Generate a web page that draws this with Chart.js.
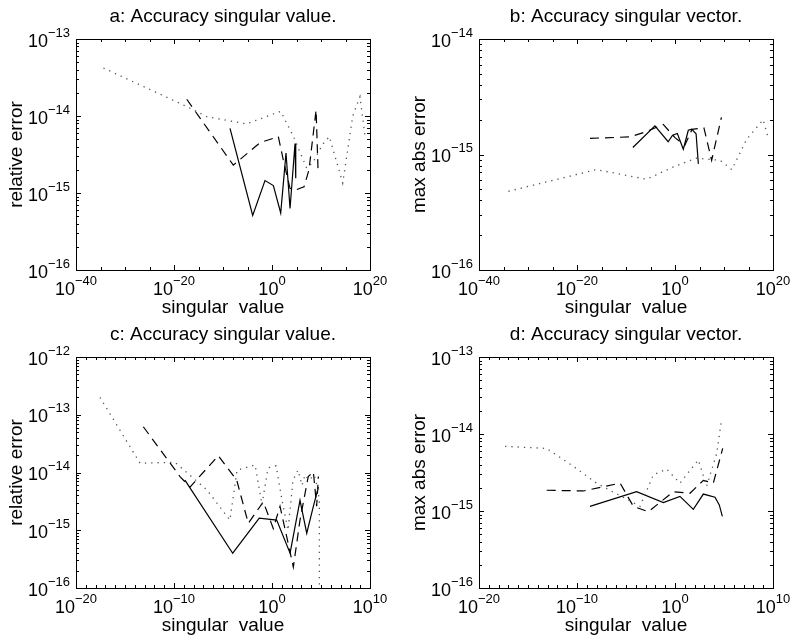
<!DOCTYPE html>
<html lang="en">
<head>
<meta charset="UTF-8">
<title>Accuracy singular value / vector</title>
<style>
  body { margin: 0; background: #fff; }
  #fig { position: relative; width: 793px; height: 641px; }
  #fig canvas { position: absolute; left: 0; top: 0; }
</style>
</head>
<body>
<div id="fig">
  <canvas id="pa" width="793" height="641"></canvas>
  <canvas id="pb" width="793" height="641"></canvas>
  <canvas id="pc" width="793" height="641"></canvas>
  <canvas id="pd" width="793" height="641"></canvas>
</div>
<script src="https://cdn.jsdelivr.net/npm/chart.js@4/dist/chart.umd.min.js"></script>
<script>
// tick exponents (labels are 10^exp)
const abXExp = [-40, -20, 0, 20];
const cdXExp = [-20, -10, 0, 10];
const aYExp = [-16, -15, -14, -13];
const bYExp = [-16, -15, -14];
const cYExp = [-16, -15, -14, -13, -12];
const dYExp = [-16, -15, -14, -13];

const titles = ['a: Accuracy singular value.', 'b: Accuracy singular vector.',
                'c: Accuracy singular value.', 'd: Accuracy singular vector.'];
const yLabels = ['relative error', 'max abs error', 'relative error', 'max abs error'];
const xLabel = 'singular  value';

// panel a
const aSolidX = [2.7e-9, 1.15e-4, 0.037, 1.9, 60, 720, 4.8e3, 5e4, 7e4];
const aSolidY = [6.9e-15, 5.1e-16, 1.45e-15, 1.25e-15, 5.5e-16, 3.3e-15, 6.3e-16, 4.4e-15, 1.55e-15];
const aDashX = [4e-18, 1.26e-8, 3.5e-3, 19.5, 200, 4.7e3, 8e4, 3.4e6, 3.5e7, 1e9, 2.5e9];
const aDashY = [1.65e-14, 2.3e-15, 4.5e-15, 5.4e-15, 2.7e-15, 1.15e-15, 1.1e-15, 1.2e-15, 2.0e-15, 1.2e-14, 2.0e-15];
const aDotX = [4e-35, 8e-18, 5e-14, 6.3e-6, 60, 2.2e4, 1.2e7, 2e8, 2.2e10, 5e11, 2.7e14, 3e16, 9e17, 1e19];
const aDotY = [4.2e-14, 1.3e-14, 9.8e-15, 7.9e-15, 1.15e-14, 5.5e-15, 2.1e-15, 2.45e-15, 4.3e-15, 5.4e-15, 1.35e-15, 1e-14, 1.78e-14, 5.4e-15];

// panel b
const bSolidX = [2.5e-9, 8e-5, 0.04, 0.32, 3, 50, 520, 2.5e3, 2e4, 5.8e4];
const bSolidY = [1.15e-15, 1.77e-15, 1.29e-15, 1.47e-15, 1.52e-15, 1.11e-15, 1.62e-15, 1.66e-15, 1.51e-15, 8.3e-16];
const bDashX = [4.5e-18, 6.3e-10, 1.6e-6, 4e-3, 1, 100, 3e3, 8e5, 3e7, 3e9];
const bDashY = [1.38e-15, 1.42e-15, 1.58e-15, 1.82e-15, 1.4e-15, 1.2e-15, 1.65e-15, 1.7e-15, 8.9e-16, 2.1e-15];
const bDotX = [1e-34, 1e-16, 1.6e-6, 0.45, 2.5e4, 1.6e9, 4e11, 4e14, 1e18, 1e19];
const bDotY = [4.8e-16, 7.4e-16, 6.1e-16, 7.8e-16, 9.3e-16, 8.9e-16, 7.4e-16, 1.35e-15, 2.0e-15, 1.4e-15];

// panel c
const cSolidX = [1.3e-9, 9.8e-5, 0.05, 3, 70, 720, 3.5e3, 1.66e4, 5.4e4];
const cSolidY = [7.4e-15, 4.0e-16, 1.62e-15, 1.5e-15, 4e-16, 3.3e-15, 8.9e-16, 2.6e-15, 5.6e-15];
const cDashX = [7.4e-14, 4.1e-10, 4.3e-9, 3.3e-6, 2.5e-4, 3.8e-3, 0.13, 1.35, 6.6, 150, 720, 5e3, 1.66e4, 3.6e4, 5.4e4];
const cDashY = [6.2e-14, 8.5e-15, 5.6e-15, 1.95e-14, 7.4e-15, 1.32e-15, 3.1e-15, 1.07e-15, 2.6e-15, 2.3e-16, 1.5e-15, 8.5e-15, 1.03e-14, 2.6e-15, 8.5e-15];
const cDotX = [2.8e-18, 3.4e-14, 1.26e-10, 2.3e-7, 5.1e-5, 2.7e-4, 0.019, 0.095, 0.39, 2.6, 10.5, 43, 140, 450, 1150, 2300, 6000, 2e4, 5e4, 6.8e4, 6.9e4];
const cDotY = [2.0e-13, 1.45e-14, 1.5e-14, 5.0e-15, 1.5e-15, 1.1e-14, 1.35e-14, 2.75e-15, 1.2e-14, 1.3e-14, 3.3e-15, 1.0e-15, 7.4e-15, 1.1e-14, 6.0e-15, 9.1e-15, 7.4e-15, 9e-15, 5e-15, 3e-15, 1e-17];

// panel d
const dSolidX = [2.1e-9, 1.2e-4, 0.065, 3.2, 74, 780, 1.2e4, 3.3e4, 6.8e4];
const dSolidY = [1.15e-15, 1.78e-15, 1.29e-15, 1.55e-15, 1.05e-15, 1.66e-15, 1.51e-15, 1.2e-15, 8.5e-16];
const dDashX = [8.1e-14, 4.4e-10, 2.5e-6, 5.6e-5, 1.9e-3, 0.68, 34, 780, 8.1e3, 7.4e4];
const dDashY = [1.86e-15, 1.82e-15, 2.3e-15, 1.15e-15, 9.8e-16, 1.78e-15, 1.7e-15, 2.5e-15, 2.3e-15, 6.5e-15];
const dDotX = [4.5e-18, 8.1e-14, 4.2e-11, 1e-8, 2.7e-4, 6.2e-3, 0.14, 3.2, 240, 1.7e3, 1.8e4, 5.9e4];
const dDotY = [6.9e-15, 6.5e-15, 3.8e-15, 2.3e-15, 1.15e-15, 2.95e-15, 3.5e-15, 2.3e-15, 4.6e-15, 2.1e-15, 5.6e-15, 1.6e-14];

const FONT = '"Liberation Sans", Arial, Helvetica, sans-serif';

// "10" with a raised exponent, as matlab does on log axes; returns the width
function drawPow(ctx, x, base, exp, align) {
    const expTxt = exp < 0 ? '\u2212' + (-exp) : String(exp);
    ctx.font = '18px ' + FONT;
    const w10 = ctx.measureText('10').width;
    ctx.font = '13px ' + FONT;
    const wExp = ctx.measureText(expTxt).width;
    const left = align === 'right' ? x - w10 - wExp : x - (w10 + wExp) / 2;
    ctx.textAlign = 'left';
    ctx.textBaseline = 'alphabetic';
    ctx.font = '18px ' + FONT;
    ctx.fillText('10', left, base);
    ctx.font = '13px ' + FONT;
    ctx.fillText(expTxt, left + w10, base - 10);
    return w10 + wExp;
}

const matlabAxes = {
    id: 'matlabAxes',
    afterDraw(chart, args, opts) {
        const ctx = chart.ctx;
        const a = chart.chartArea;
        const xs = chart.scales.x, ys = chart.scales.y;
        ctx.save();
        ctx.strokeStyle = '#000';
        ctx.fillStyle = '#000';
        ctx.lineWidth = 1;
        ctx.strokeRect(a.left + 0.5, a.top + 0.5, a.right - a.left, a.bottom - a.top);

        ctx.beginPath();
        // y ticks, major and minor, both sides, pointing inwards
        const yTop = opts.yExp[opts.yExp.length - 1];
        for (let e = opts.yExp[0]; e <= yTop; e++) {
            for (let k = 1; k <= 9; k++) {
                if (k > 1 && e === yTop) break;
                const py = Math.round(ys.getPixelForValue(k * Math.pow(10, e))) + 0.5;
                const len = k === 1 ? 5 : 3;
                ctx.moveTo(a.left, py); ctx.lineTo(a.left + len, py);
                ctx.moveTo(a.right, py); ctx.lineTo(a.right - len, py);
            }
        }
        // x ticks
        const x0 = opts.xExp[0], x1 = opts.xExp[opts.xExp.length - 1];
        for (let e = x0; e <= x1; e += opts.xMinor) {
            const px = Math.round(xs.getPixelForValue(Math.pow(10, e))) + 0.5;
            const len = opts.xExp.includes(e) ? 5 : 3;
            ctx.moveTo(px, a.bottom); ctx.lineTo(px, a.bottom - len);
            ctx.moveTo(px, a.top); ctx.lineTo(px, a.top + len);
        }
        ctx.stroke();

        // tick labels
        opts.xExp.forEach(e => {
            drawPow(ctx, xs.getPixelForValue(Math.pow(10, e)), a.bottom + 25, e, 'center');
        });
        let maxW = 0;
        opts.yExp.forEach(e => {
            const w = drawPow(ctx, a.left - 6, ys.getPixelForValue(Math.pow(10, e)) + 7.5, e, 'right');
            maxW = Math.max(maxW, w);
        });

        // title and axis labels
        const cx = (a.left + a.right) / 2;
        ctx.font = '19px ' + FONT;
        ctx.textAlign = 'center';
        ctx.textBaseline = 'alphabetic';
        ctx.fillText(opts.title, cx, a.top - 17);
        ctx.fillText(xLabel, cx, a.bottom + 43);
        // ylabel sits left of the widest tick label
        ctx.translate(a.left - 6 - maxW - 11, (a.top + a.bottom) / 2);
        ctx.rotate(-Math.PI / 2);
        ctx.textBaseline = 'middle';
        ctx.fillText(opts.yLabel, 0, 0);
        ctx.restore();
    }
};

const solid = { borderColor: '#000', borderWidth: 1.2 };
const dashed = { borderColor: '#000', borderWidth: 1.2, borderDash: [9, 6] };
const dotted = { borderColor: '#555', borderWidth: 1.3, borderDash: [1.3, 5] };

function line(xs, ys, style) {
    return Object.assign({
        data: xs.map((x, i) => ({ x: x, y: ys[i] })),
        pointRadius: 0,
        fill: false,
        tension: 0
    }, style);
}

function makePanel(id, box, xExp, yExp, xMinor, title, yLabel, sets) {
    new Chart(document.getElementById(id), {
        type: 'line',
        data: { datasets: sets },
        options: {
            responsive: false,
            animation: false,
            devicePixelRatio: 1,
            layout: { padding: { left: box[0], top: box[1], right: 793 - box[2], bottom: 641 - box[3] } },
            plugins: {
                legend: { display: false },
                tooltip: { enabled: false },
                matlabAxes: { xExp: xExp, yExp: yExp, xMinor: xMinor, title: title, yLabel: yLabel }
            },
            scales: {
                x: { type: 'logarithmic', display: false,
                     min: Math.pow(10, xExp[0]), max: Math.pow(10, xExp[xExp.length - 1]) },
                y: { type: 'logarithmic', display: false,
                     min: Math.pow(10, yExp[0]), max: Math.pow(10, yExp[yExp.length - 1]) }
            }
        },
        plugins: [matlabAxes]
    });
}

makePanel('pa', [76, 39, 370, 270], abXExp, aYExp, 5, titles[0], yLabels[0], [
    line(aDotX, aDotY, dotted), line(aDashX, aDashY, dashed), line(aSolidX, aSolidY, solid)]);
makePanel('pb', [479, 39, 773, 270], abXExp, bYExp, 5, titles[1], yLabels[1], [
    line(bDotX, bDotY, dotted), line(bDashX, bDashY, dashed), line(bSolidX, bSolidY, solid)]);
makePanel('pc', [76, 357, 370, 588], cdXExp, cYExp, 1, titles[2], yLabels[2], [
    line(cDotX, cDotY, dotted), line(cDashX, cDashY, dashed), line(cSolidX, cSolidY, solid)]);
makePanel('pd', [479, 357, 773, 588], cdXExp, dYExp, 1, titles[3], yLabels[3], [
    line(dDotX, dDotY, dotted), line(dDashX, dDashY, dashed), line(dSolidX, dSolidY, solid)]);
</script>
</body>
</html>
